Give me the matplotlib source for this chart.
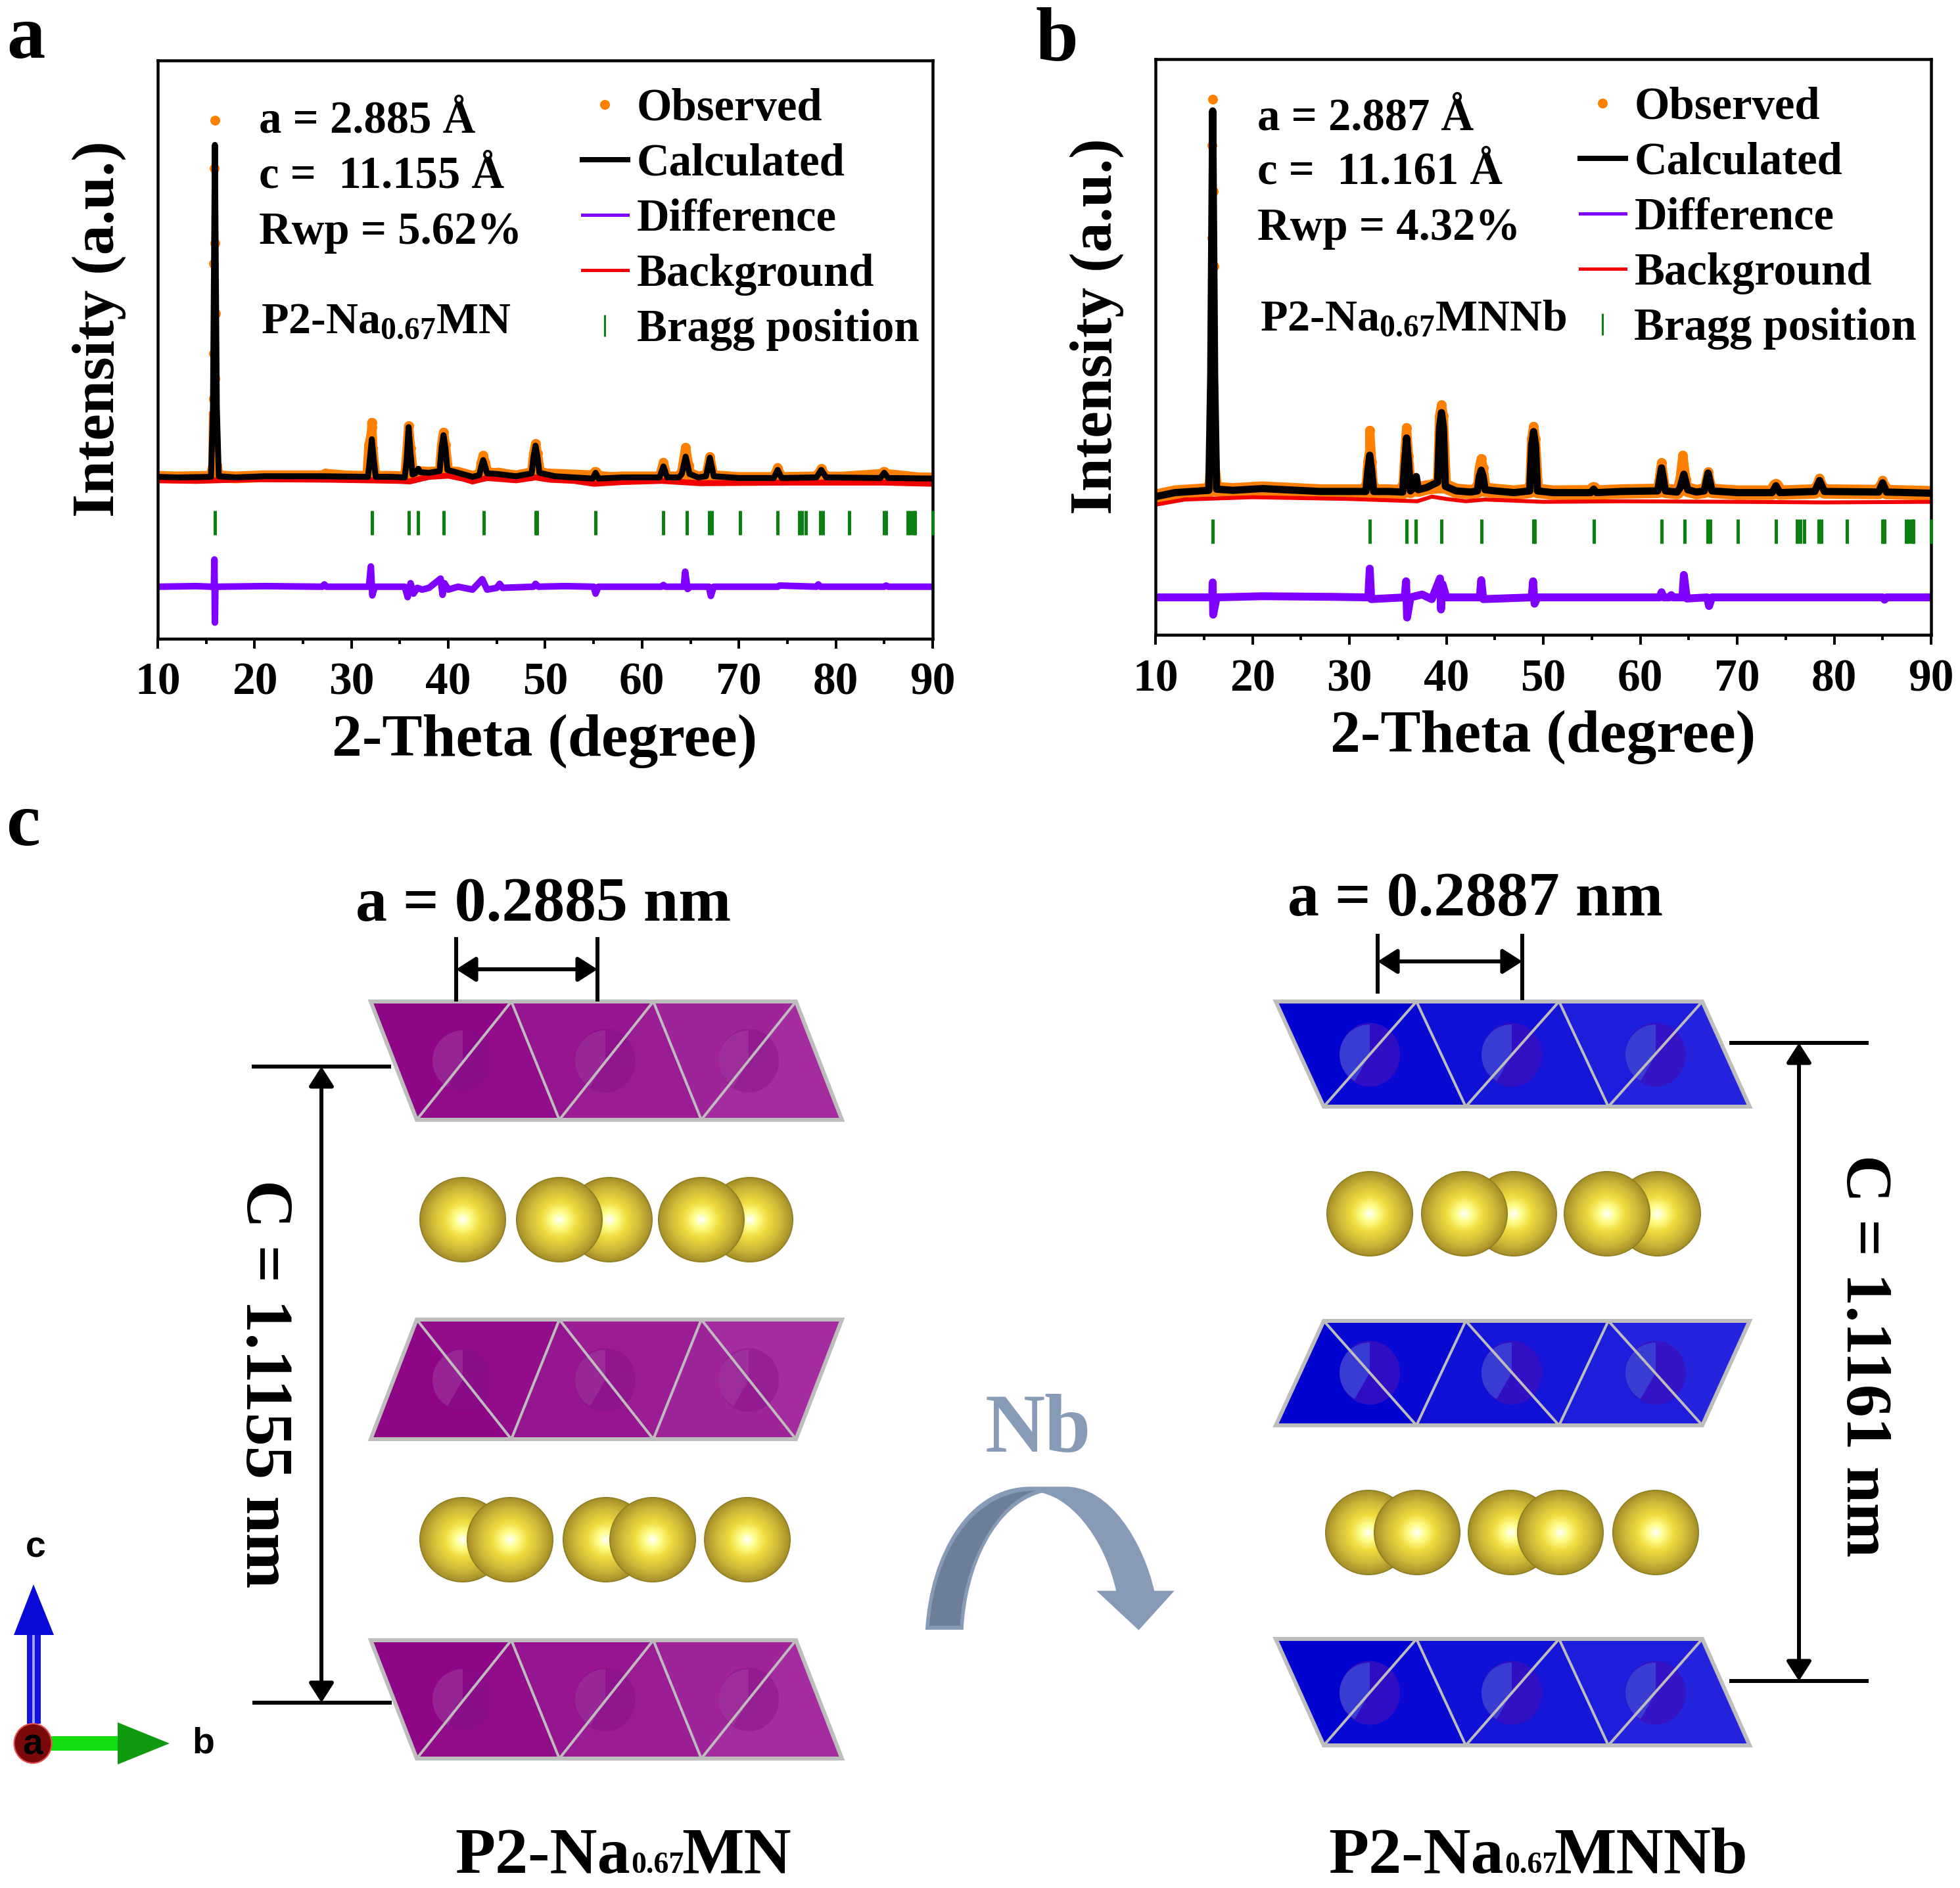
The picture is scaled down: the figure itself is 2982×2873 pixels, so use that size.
import numpy as np
import matplotlib
matplotlib.use('Agg')
import matplotlib.pyplot as plt
from matplotlib.colors import LinearSegmentedColormap, to_rgb
from matplotlib.lines import Line2D
from matplotlib.patches import Ellipse, FancyArrowPatch, PathPatch, Polygon, Rectangle, Wedge
from matplotlib.path import Path
from matplotlib.ticker import MultipleLocator

W, H = 2982, 2873

plt.rcParams['font.family'] = ['Liberation Serif', 'DejaVu Serif']
plt.rcParams['font.weight'] = 'bold'
plt.rcParams['mathtext.fontset'] = 'custom'
plt.rcParams['mathtext.rm'] = 'Liberation Serif:bold'
plt.rcParams['mathtext.default'] = 'rm'

GAP = float('nan')

### DATA ###
# two theta grid shared by the calculated curves
tth = [10, 12, 15.5, 15.7, 15.9, 16.1, 16.3, 18, 21, 27,
       31.7, 31.9, 32.1, 32.3, 32.5, 34,
       35.5, 35.7, 35.9, 36.1, 36.3, 36.6, 36.9, 37.1, 38,
       39.1, 39.3, 39.5, 39.7, 39.9, 41, 42.5,
       43.2, 43.4, 43.6, 43.8, 44, 45, 47,
       48.6, 48.8, 49, 49.2, 49.4, 51, 54.9, 55.2, 55.5, 58,
       61.8, 62.2, 62.6, 63.8, 64.1, 64.5, 64.9, 65.8,
       66.6, 67, 67.4, 70, 73.6, 74, 74.4,
       78, 78.5, 79, 84.6, 85, 85.4, 90]

calc_a = [280, 279, 280, 400, 854, 400, 281, 279, 281, 281,
          280, 310, 345, 310, 280, 280,
          279, 310, 366, 320, 284, 286, 294, 288, 287,
          290, 330, 352, 330, 292, 287, 280,
          283, 298, 309, 298, 286, 285, 281,
          286, 315, 334, 315, 287, 281, 277, 287, 277, 279,
          279, 298, 279, 279, 285, 315, 285, 279,
          281, 313, 281, 278, 278, 292, 278,
          279, 292, 279, 278, 287, 278, 277]

calc_b = [240, 247, 251, 450, 910, 450, 253, 251, 254, 249,
          249, 285, 312, 285, 249, 249,
          248, 300, 342, 300, 250, 255, 275, 252, 256,
          265, 360, 386, 360, 258, 250, 248,
          250, 275, 286, 275, 252, 250, 247,
          250, 330, 353, 330, 250, 247, 247, 253, 247, 249,
          250, 290, 250, 248, 255, 279, 252, 248,
          250, 281, 250, 247, 247, 259, 247,
          249, 268, 249, 248, 264, 248, 246]

# observed points, gaps where the dots stand apart on the strongest line
obs_x_a = [10, 15.4, 15.7, 15.75, GAP, 15.75, GAP, 15.9, GAP, 15.75, GAP, 15.95, GAP, 15.8, GAP, 15.9, GAP, 15.85, GAP, 15.9, GAP,
           16.1, 16.4, 22, 27, 27.3, 31.6,
           31.8, 32.0, 32.1, 32.1, 32.2, 32.5, 34, 35.5, 35.7, 35.9, 36.1, 36.4, 37, 38,
           39.1, 39.3, 39.5, 39.7, 40, 42.5, 43.2, 43.4, 43.6, 43.8, 44.1, 45.2, 47,
           48.6, 48.8, 49, 49.2, 49.5, 55.2, 58, 61.8, 62.2, 62.6, 64, 64.2, 64.5, 64.8, 65.1,
           66.6, 67, 67.4, 70, 73.6, 74, 74.4, 78, 78.5, 79, 85, 90]
obs_y_a = [280, 280, 300, 385, GAP, 415, GAP, 450, GAP, 493, GAP, 562, GAP, 649, GAP, 684, GAP, 814, GAP, 897, GAP,
           300, 280, 281, 281, 286, 280,
           335, 350, 366, 374, 330, 280, 280, 279, 320, 368, 330, 284, 288, 287,
           290, 335, 357, 335, 291, 279, 283, 305, 317, 305, 286, 288, 282,
           286, 320, 337, 320, 287, 283, 278, 279, 305, 279, 279, 300, 331, 300, 279,
           281, 315, 281, 278, 278, 296, 278, 279, 294, 279, 286, 277]

obs_x_b = [10, 13, 15.5, 15.7, 15.85, GAP, 15.95, GAP, 15.8, GAP, 16, GAP, 15.85, GAP, 15.95, GAP, 15.85, GAP, 15.9, GAP,
           16.1, 16.4, 21, 28, 31.7,
           31.9, 32.1, 32.1, 32.3, 32.5, 34, 35.5, 35.7, 35.9, 36.1, 36.4, 38,
           39.1, 39.3, 39.5, 39.7, 40, 42.5, 43.2, 43.4, 43.6, 43.8, 44.1, 47,
           48.6, 48.8, 49, 49.2, 49.5, 55.2, 58, 61.8, 62.2, 62.6, 63.8, 64.1, 64.4, 64.7, 65,
           66.6, 67, 67.4, 70, 73.6, 74, 74.4, 76.3, 78, 78.5, 79, 84.6, 85, 85.4, 90]
obs_y_b = [241, 250, 252, 300, 385, GAP, 430, GAP, 520, GAP, 640, GAP, 690, GAP, 770, GAP, 850, GAP, 930, GAP,
           300, 252, 254, 251, 250,
           300, 320, 355, 300, 250, 250, 249, 310, 360, 310, 252, 257,
           267, 380, 399, 380, 259, 249, 251, 290, 306, 290, 253, 248,
           252, 340, 362, 340, 251, 252, 250, 251, 299, 251, 249, 270, 312, 270, 249,
           251, 283, 251, 248, 248, 263, 248, 252, 250, 272, 250, 249, 268, 249, 247]

bg_x_a = [10, 14, 20, 28, 35, 36, 38, 40, 41.5, 42.5, 44, 47, 49, 50.5, 53, 55, 58, 62, 66, 75, 85, 90]
bg_y_a = [274, 273, 276, 275, 273, 272, 280, 282, 277, 272, 278, 274, 279, 275, 273, 268, 271, 273, 269, 270, 270, 268]

bg_x_b = [10, 13, 20, 30, 37, 38.5, 40, 42, 44, 50, 58, 70, 79, 90]
bg_y_b = [226, 235, 239, 236, 232, 240, 236, 232, 235, 231, 232, 231, 230, 231]

diff_x_a = [10, 14, 15.5, 15.8, 15.85, 15.9, 15.95, 16.3, 21, 27, 27.2, 27.4, 31.8, 32, 32.15, 32.4, 35.5, 35.8, 36.1, 36.4,
            36.8, 37.3, 38, 39.2, 39.4, 39.6, 40, 41, 42.5, 43.5, 44, 45, 45.3, 45.6, 48.8, 49, 49.3, 52, 55, 55.2, 55.5,
            62, 62.2, 62.4, 64.3, 64.45, 64.7, 65, 66.9, 67.1, 67.4, 74, 74.2, 78, 78.2, 78.4, 85, 85.2, 85.4, 90]
diff_y_a = [90, 91, 90, 90, 137, 28, 90, 90, 91, 90, 94, 90, 90, 125, 75, 90, 90, 72, 96, 78,
            88, 85, 88, 104, 76, 96, 85, 90, 85, 103, 85, 88, 95, 88, 90, 95, 90, 91, 90, 78, 90,
            90, 93, 90, 90, 116, 86, 90, 90, 74, 90, 90, 92, 90, 94, 90, 90, 92, 90, 90]

diff_x_b = [10, 15.5, 15.85, 15.9, 15.95, 16.3, 21, 28, 31.95, 32.1, 32.25, 35.7, 35.85, 35.95, 36.3, 37.5, 38.5, 39.35, 39.45, 39.6,
            40, 43.45, 43.6, 43.8, 48.8, 48.95, 49.1, 49.4, 62, 62.2, 62.4, 63, 63.2, 63.4, 64.35, 64.5, 64.8, 66.9, 67.1, 67.4, 85, 85.2, 85.4, 90]
diff_y_b = [65, 65, 65, 91, 35, 65, 67, 66, 65, 115, 62, 65, 93, 30, 65, 70, 62, 98, 44, 88,
            65, 65, 95, 62, 65, 93, 54, 65, 65, 74, 65, 65, 69, 65, 65, 104, 63, 65, 50, 65, 65, 61, 65, 65]

bragg_pos = [15.9, 32.1, 35.9, 36.85, 39.5, 43.65, 49.0, 49.15, 55.2, 62.2, 64.6, 66.95, 67.2, 70.1, 74.0,
             76.2, 76.5, 76.9, 78.4, 78.7, 81.35, 85.0, 85.2, 87.4, 87.7, 88.0, 88.2, 90.0]
bragg_a = 201
bragg_b = 180

legend_labels = ['Observed', 'Calculated', 'Difference', 'Background', 'Bragg position']
x_ticks = [10, 20, 30, 40, 50, 60, 70, 80, 90]

# schematic blocks for panel c: vertex x of the two rows and y of each block
left_xa = [564, 778, 994, 1211]
left_xb = [634, 851, 1067, 1281]
left_blocks = [(1524, 1704), (2190, 2008), (2496, 2676)]
left_cores_x = [704, 921, 1139]
left_cores_y = [1614, 2100, 2586]

right_xa = [1941, 2155, 2372, 2590]
right_xb = [2014, 2230, 2447, 2662]
right_blocks = [(1524, 1684), (2169, 2010), (2494, 2656)]
right_cores_x = [2084, 2300, 2519]
right_cores_y = [1605, 2089, 2576]

# Na spheres, back row first so that front ones overlap them
left_na = [(704, 1856), (927, 1856), (1141, 1856), (851, 1856), (1067, 1856),
           (704, 2343), (922, 2343), (1137, 2343), (776, 2343), (993, 2343)]
right_na = [(2084, 1847), (2303, 1847), (2522, 1847), (2228, 1847), (2445, 1847),
            (2082, 2332), (2299, 2332), (2519, 2332), (2156, 2332), (2374, 2332)]
na_front = [3, 4, 8, 9]

# Nb arrow outline, pixels of the 600x500 crop at (1300, 2050)
arrow_outer = [(282, 1290), (300, 950), (450, 637), (700, 637), (840, 637), (1020, 637), (1150, 900), (1192, 1112),
               (1272, 1112), (1130, 1292), (962, 1112), (1040, 1112), (1000, 900), (880, 700), (745, 665),
               (560, 720), (445, 1000), (433, 1290), (282, 1290)]
arrow_outer_codes = [Path.MOVETO, Path.CURVE4, Path.CURVE4, Path.CURVE4, Path.LINETO, Path.CURVE4, Path.CURVE4, Path.CURVE4,
                     Path.LINETO, Path.LINETO, Path.LINETO, Path.LINETO, Path.CURVE4, Path.CURVE4, Path.CURVE4,
                     Path.CURVE4, Path.CURVE4, Path.CURVE4, Path.CLOSEPOLY]
arrow_dark = [(298, 1272), (315, 960), (460, 655), (720, 655), (560, 710), (430, 1000), (420, 1272), (298, 1272)]
arrow_dark_codes = [Path.MOVETO, Path.CURVE4, Path.CURVE4, Path.CURVE4, Path.CURVE4, Path.CURVE4, Path.CURVE4, Path.CLOSEPOLY]


def px_to_pt(p):
    return p * 0.72


def add_panel(box, calc, obs_x, obs_y, bg_x, bg_y, diff_x, diff_y, bragg_y, band_cut, lws):
    ''' draws one refinement panel; box is left, right, top, bottom in pixels '''
    left, right, top, bottom = box
    band_lw, bg_lw, calc_lw, diff_lw = lws
    ax = fig.add_axes([left / W, 1 - bottom / H, (right - left) / W, (bottom - top) / H])

    # the scatter of the observed points makes a wider band along the baseline than on the peaks
    ax.plot(tth, np.minimum(calc, band_cut), color='#FF8000', lw=px_to_pt(band_lw))
    ax.plot(obs_x, obs_y, color='#FF8000', lw=px_to_pt(14), marker='o', ms=px_to_pt(15), mew=0, solid_joinstyle='round')
    ax.plot(bg_x, bg_y, color='#F00000', lw=px_to_pt(bg_lw))
    ax.plot(tth, calc, color='black', lw=px_to_pt(calc_lw))
    ax.plot(bragg_pos, [bragg_y] * len(bragg_pos), ls='none', marker='|', color='#0A8010', ms=px_to_pt(37),
            mew=px_to_pt(5), clip_on=False, zorder=3)
    ax.plot(diff_x, diff_y, color='#7F00FF', lw=px_to_pt(diff_lw))

    ax.set_xlim(10, 90)
    ax.set_ylim(0, 1000)
    ax.set_xticks(x_ticks)
    ax.xaxis.set_minor_locator(MultipleLocator(5))
    ax.set_yticks([])
    ax.tick_params(axis='x', which='major', length=px_to_pt(15), width=px_to_pt(4), labelsize=50, pad=px_to_pt(21))
    ax.tick_params(axis='x', which='minor', length=px_to_pt(8), width=px_to_pt(4))
    for spine in ax.spines.values():
        spine.set_linewidth(px_to_pt(4.5))

    ax.set_xlabel('2-Theta (degree)', fontsize=66, fontweight='bold', va='center')
    ax.xaxis.set_label_coords(0.4996, -156 / (bottom - top))
    ax.set_ylabel('Intensity (a.u.)', fontsize=66, fontweight='bold', va='center')
    ax.yaxis.set_label_coords(-89 / (right - left), 0.536)

    handles = [
        Line2D([], [], ls='none', marker='o', color='#FF8000', ms=px_to_pt(15), mew=0),
        Line2D([], [], color='black', lw=px_to_pt(8)),
        Line2D([], [], color='#7F00FF', lw=px_to_pt(5)),
        Line2D([], [], color='#F00000', lw=px_to_pt(5)),
        Line2D([], [], ls='none', marker='|', color='#0A8010', ms=px_to_pt(33), mew=px_to_pt(3)),
    ]
    ax.legend(handles, legend_labels, loc='upper left', frameon=False, fontsize=49.5, numpoints=1,
              bbox_to_anchor=((left + 646) / W, 1 - (top + 42) / H), bbox_transform=fig.transFigure,
              borderaxespad=0, borderpad=0, handlelength=1.0, handletextpad=0.2, labelspacing=0.29)
    return ax


def text(x, y, s, size, **kw):
    kw.setdefault('ha', 'left')
    kw.setdefault('va', 'center')
    return ov.text(x, y, s, fontsize=size, **kw)


def draw_block(xa, xb, ya, yb, start, end, edge, core, core_light, core_alpha, cores_x, core_y):
    ''' one slab of six triangles with the gradient running left to right '''
    c0, c1 = np.array(to_rgb(start)), np.array(to_rgb(end))
    for i in range(3):
        ov.add_patch(Polygon([(xa[i], ya), (xa[i + 1], ya), (xb[i], yb)], fc=tuple(c0 + (c1 - c0) * (2 * i) / 5), ec='none', zorder=2))
        ov.add_patch(Polygon([(xa[i + 1], ya), (xb[i + 1], yb), (xb[i], yb)], fc=tuple(c0 + (c1 - c0) * (2 * i + 1) / 5), ec='none', zorder=2))
    for cx in cores_x:
        ov.add_patch(Ellipse((cx, core_y), 92, 97, fc=core, ec='none', alpha=core_alpha, zorder=3))
        ov.add_patch(Wedge((cx, core_y), 46, 120, 270, fc=core_light, ec='none', alpha=core_alpha, zorder=3))
    outline = [(xa[0], ya), (xa[3], ya), (xb[3], yb), (xb[0], yb)]
    ov.add_patch(Polygon(outline, fc='none', ec=edge, lw=px_to_pt(6), zorder=4))
    zig_x, zig_y = [], []
    for i in range(3):
        zig_x += [xb[i], xa[i + 1]]
        zig_y += [yb, ya]
        if i < 2:
            zig_x.append(xb[i + 1])
            zig_y.append(yb)
    ov.plot(zig_x, zig_y, color=edge, lw=px_to_pt(4), zorder=4)


def draw_sphere(x, y, z):
    im = ov.imshow(sphere_img, extent=(x - 66, x + 66, y + 65, y - 65), cmap=sphere_cmap, vmin=0, vmax=1,
                   aspect='auto', zorder=z, interpolation='bilinear')
    im.set_clip_path(Ellipse((x, y), 132, 130, transform=ov.transData))


def double_arrow(p0, p1):
    ov.add_patch(FancyArrowPatch(p0, p1, arrowstyle='<|-|>,head_length=18,head_width=11.5', mutation_scale=1,
                                 lw=px_to_pt(6), color='black', shrinkA=0, shrinkB=0, zorder=6))


def hline(x0, x1, y):
    ov.plot([x0, x1], [y, y], color='black', lw=px_to_pt(6), solid_capstyle='butt', zorder=6)


def vline(x, y0, y1):
    ov.plot([x, x], [y0, y1], color='black', lw=px_to_pt(6), solid_capstyle='butt', zorder=6)


def crop_px(points):
    return [(1300 + x / 2.613, 2050 + y / 3.0) for x, y in points]


### MAIN FLOW ###
fig = plt.figure(figsize=(W / 100, H / 100), dpi=100)

add_panel((240, 1419, 92, 972), calc_a, obs_x_a, obs_y_a, bg_x_a, bg_y_a, diff_x_a, diff_y_a, bragg_a, 288, (18, 9, 9, 10))
add_panel((1758, 2938, 90, 966), calc_b, obs_x_b, obs_y_b, bg_x_b, bg_y_b, diff_x_b, diff_y_b, bragg_b, 258, (22, 6, 11, 12))

# transparent layer in image pixels for the annotations and the schematic
ov = fig.add_axes([0, 0, 1, 1])
ov.set_xlim(0, W)
ov.set_ylim(H, 0)
ov.axis('off')
ov.set_autoscale_on(False)

text(10, 60, 'a', 84)
text(1576, 64, 'b', 84)
text(10, 1258, 'c', 84)

text(394, 184, 'a = 2.885 Å', 49.5)
text(394, 268, 'c =  11.155 Å', 49.5)
text(394, 354, 'Rwp = 5.62%', 49.5)
text(397, 490, r'P2-Na$_{0.67}$MN', 49)

text(1913, 180, 'a = 2.887 Å', 49.5)
text(1913, 263, 'c =  11.161 Å', 49.5)
text(1913, 348, 'Rwp = 4.32%', 49.5)
text(1917, 486, r'P2-Na$_{0.67}$MNNb', 49)

# panel c slabs
for (ya, yb), cy in zip(left_blocks, left_cores_y):
    draw_block(left_xa, left_xb, ya, yb, '#8E0586', '#A52C9E', '#BDBDBD', '#851088', '#A845A5', 0.45, left_cores_x, cy)
for (ya, yb), cy in zip(right_blocks, right_cores_y):
    draw_block(right_xa, right_xb, ya, yb, '#0202D0', '#2424DE', '#BDBDBD', '#3A10C0', '#3C48D6', 0.8, right_cores_x, cy)

# Na spheres
yy, xx = np.mgrid[-1:1:128j, -1:1:128j]
sphere_img = np.hypot(xx, yy)
sphere_cmap = LinearSegmentedColormap.from_list('na', [(0, '#FFFFFF'), (0.18, '#FFFF90'), (0.42, '#F0DC40'),
                                                       (0.72, '#D0B838'), (0.97, '#A8922A'), (1, '#8A7A1E')])
for k, (x, y) in enumerate(left_na + right_na):
    draw_sphere(x, y, 4 if k % 10 in na_front else 3)

# dimension lines
hline(383, 595, 1623)
hline(384, 596, 2591)
double_arrow((489, 1623), (489, 2591))
vline(694, 1426, 1524)
vline(909, 1426, 1524)
double_arrow((694, 1475), (909, 1475))
hline(2631, 2843, 1587)
hline(2631, 2843, 2558)
double_arrow((2737, 1587), (2737, 2558))
vline(2096, 1421, 1512)
vline(2316, 1421, 1522)
double_arrow((2096, 1463), (2316, 1463))

text(827, 1378, 'a = 0.2885 nm', 69, ha='center')
text(2245, 1370, 'a = 0.2887 nm', 69, ha='center')
text(399, 2106, 'C = 1.1155 nm', 73, ha='center', rotation=-90)
text(2834, 2063, 'C = 1.1161 nm', 72, ha='center', rotation=-90)

# bottom labels, the 0.67 sits on the baseline in small type
text(692, 2850, 'P2-Na', 72, va='baseline')
text(960, 2850, '0.67', 33, va='baseline')
text(1204, 2850, 'MN', 72, va='baseline', ha='right')
text(2021, 2850, 'P2-Na', 72, va='baseline')
text(2289, 2850, '0.67', 33, va='baseline')
text(2659, 2850, 'MNNb', 72, va='baseline', ha='right')

# Nb arrow
ov.add_patch(PathPatch(Path(crop_px(arrow_outer), arrow_outer_codes), fc='#879BB6', ec='none', zorder=2))
ov.add_patch(PathPatch(Path(crop_px(arrow_dark), arrow_dark_codes), fc='#6C7E98', ec='none', zorder=3))
text(1579, 2178, 'Nb', 91, ha='center', color='#879BB6')

# crystal axes
ov.add_patch(Rectangle((41, 2488), 21, 135, fc='#1414E0', ec='none', zorder=2))
ov.add_patch(Rectangle((49, 2488), 4, 135, fc='#A0A0F5', ec='none', zorder=3))
ov.add_patch(Polygon([(51, 2411), (82, 2488), (21, 2488)], fc='#0A0AD8', ec='none', zorder=3))
ov.add_patch(Rectangle((77, 2642), 102, 22, fc='#10DC10', ec='none', zorder=2))
ov.add_patch(Polygon([(179, 2621), (258, 2653), (179, 2685)], fc='#109A10', ec='none', zorder=3))
ov.add_patch(Ellipse((50, 2653), 57, 60, fc='#7A0A0A', ec='#E85050', lw=1.5, zorder=4))
sans = ['Liberation Sans', 'DejaVu Sans']
text(50, 2655, 'a', 40, ha='center', family=sans, zorder=5)
text(309, 2653, 'b', 40, ha='center', family=sans)
text(54, 2356, 'c', 40, ha='center', family=sans)

fig.savefig('out.png', dpi=100)
